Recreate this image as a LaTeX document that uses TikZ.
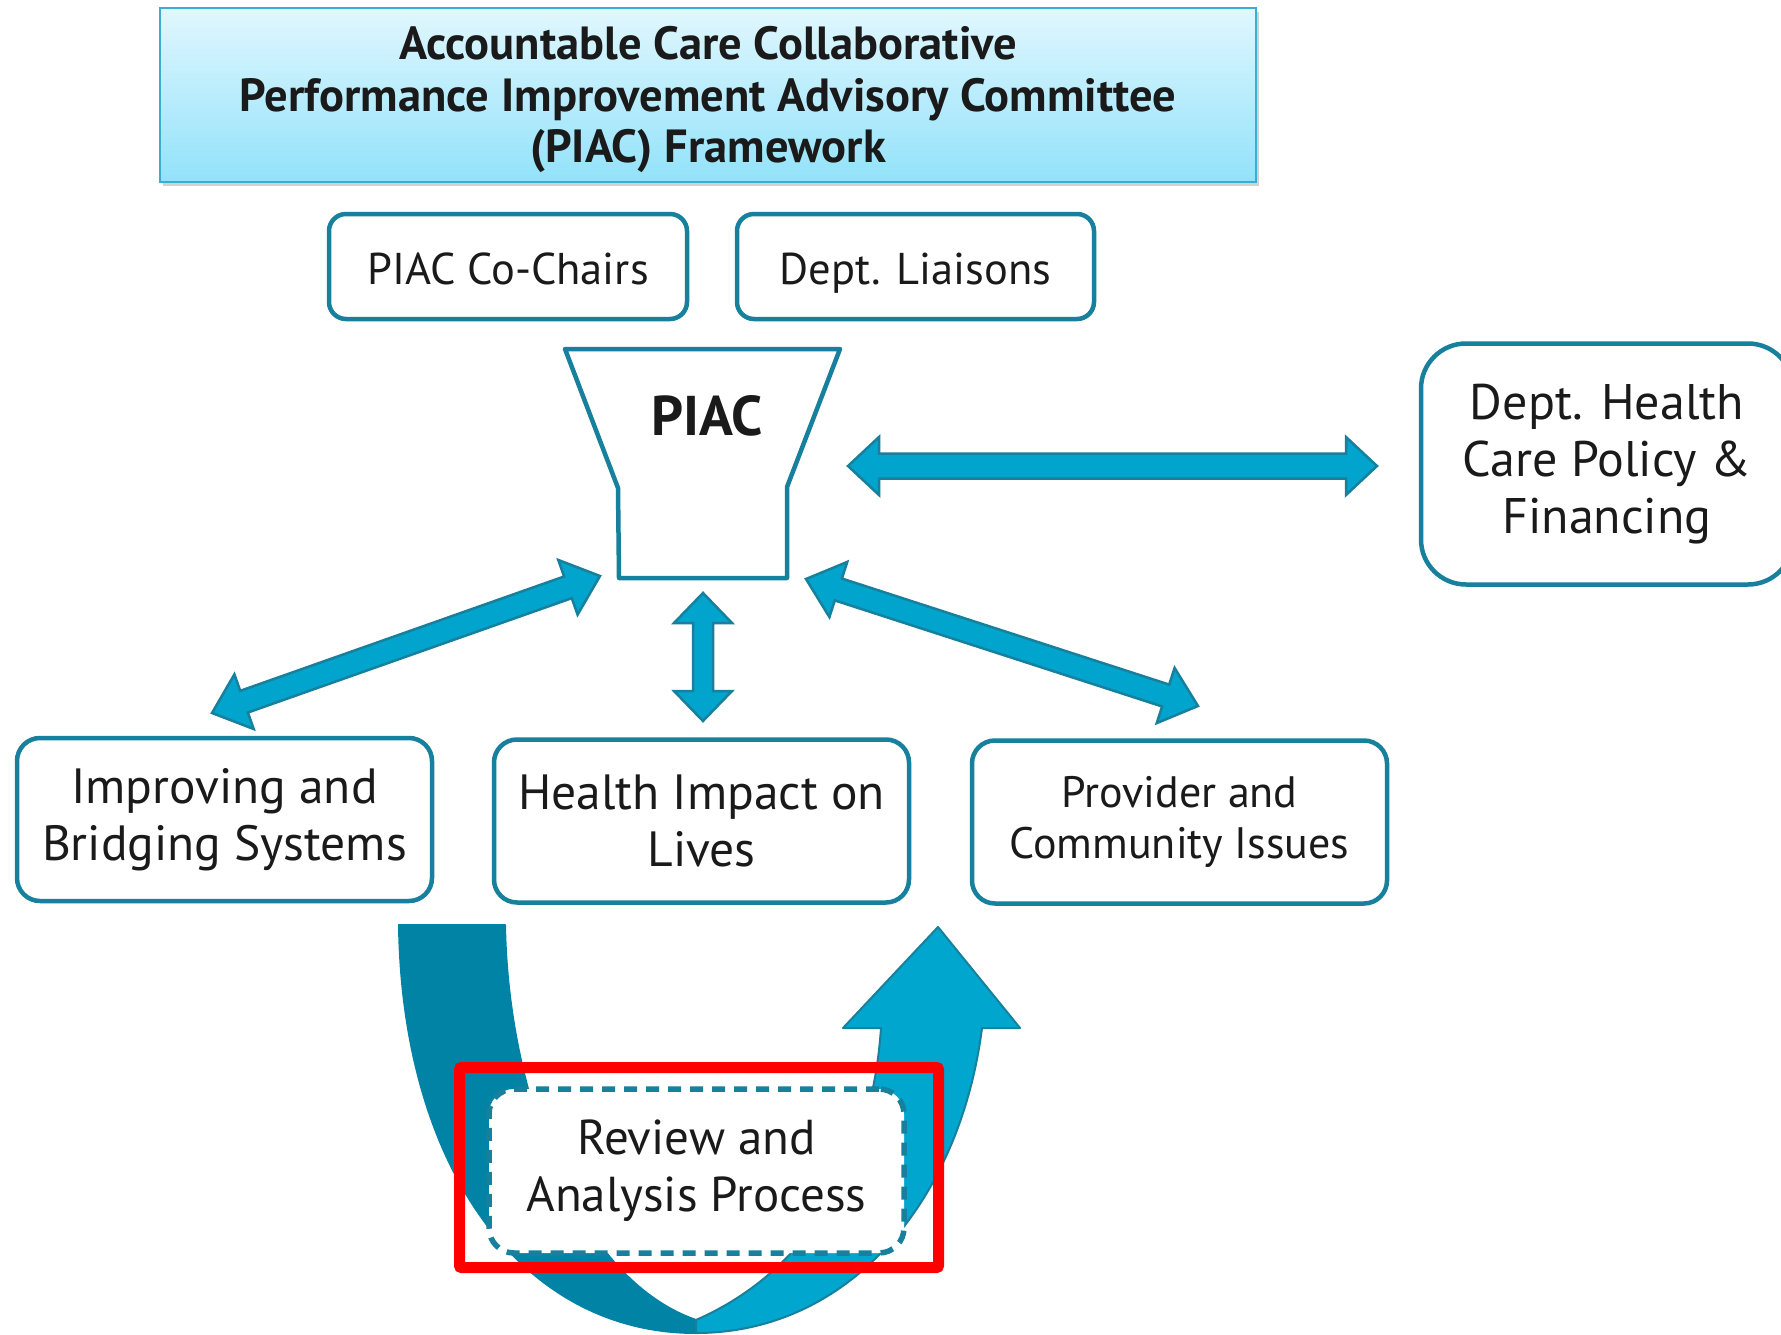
\documentclass[tikz,border=0pt]{standalone}
\usepackage{fontspec}
\setmainfont{PT Sans}
\usetikzlibrary{calc,shadows}
\definecolor{tealb}{HTML}{17809C}
\definecolor{afill}{HTML}{00A4CD}
\definecolor{udark}{HTML}{0083A4}
\definecolor{ulight}{HTML}{00A6CE}
\definecolor{ttop}{HTML}{E1F7FE}
\definecolor{tbot}{HTML}{92E2FA}
\definecolor{tborder}{HTML}{38AED3}
\definecolor{txt}{HTML}{1A1A1A}
\newcommand\fatarrow[5]{%
 \draw[fatarrowstyle] (#1) -- ($(#1)!#5!(#2)!#4!90:(#2)$) -- ($(#1)!#5!(#2)!#3!90:(#2)$)
  -- ($(#2)!#5!(#1)!#3!-90:(#1)$) -- ($(#2)!#5!(#1)!#4!-90:(#1)$) -- (#2)
  -- ($(#2)!#5!(#1)!#4!90:(#1)$) -- ($(#2)!#5!(#1)!#3!90:(#1)$)
  -- ($(#1)!#5!(#2)!#3!-90:(#2)$) -- ($(#1)!#5!(#2)!#4!-90:(#2)$) -- cycle;}
\tikzset{
 fatarrowstyle/.style={draw=tealb, fill=afill, line width=2.5pt, line join=miter},
 box/.style={draw=tealb, line width=4.5pt, rounded corners=17pt, fill=white, text=txt, align=center, inner sep=0pt},
 smallbox/.style={box, minimum width=357pt, minimum height=105pt, text height=38pt, text depth=2pt, font=\fontsize{44.5}{51}\selectfont},
 lowbox/.style={box, rounded corners=23pt, minimum width=415pt, minimum height=163pt, font=\fontsize{49.5}{57}\selectfont},
}
\begin{document}
\begin{tikzpicture}[x=1pt,y=-1pt]
\useasboundingbox (0,0) rectangle (1781,1335);
\clip (0,0) rectangle (1781,1335);
\fill[white] (0,0) rectangle (1781,1335);

% title
\node[draw=tborder, line width=2pt, top color=ttop, bottom color=tbot,
  drop shadow={shadow xshift=3pt, shadow yshift=-4pt, opacity=0.35},
  minimum width=1096pt, minimum height=174pt, inner sep=0pt, align=center, text=txt,
  font=\bfseries\fontsize{46.5}{51.5}\selectfont] (title) at (708,95) {};
\node[align=center, text=txt, inner sep=0pt, font=\bfseries\fontsize{46.5}{51.5}\selectfont] (titletext) at (708,100)
  {Accountable Care Collaborative\\Performance Improvement Advisory Committee\\(PIAC) Framework};

\node[smallbox, minimum width=358pt] (cochairs) at (508,266.5) {PIAC Co-Chairs};
\node[smallbox] (liaisons) at (915.5,266.5) {Dept. Liaisons};

% PIAC funnel
\draw[tealb, line width=4.5pt, fill=white, line join=round] (565,349) -- (840,349) -- (787,487) -- (787,578) -- (619,578) -- (618,488) -- cycle;
\node[text=txt, font=\bfseries\fontsize{56}{64}\selectfont] (piac) at (707,416) {PIAC};

\node[box, rounded corners=45pt, minimum width=372pt, minimum height=241pt, font=\fontsize{50}{57}\selectfont] (dhcpf) at (1607,464) {Dept. Health\\Care Policy \&\\Financing};

\node[lowbox] (improving) at (224.5,819.5) {Improving and\\Bridging Systems};
\node[lowbox] (health) at (701.5,821) {Health Impact on\\Lives};
\node[lowbox, font=\fontsize{44}{51}\selectfont] (provider) at (1179.5,822) {Provider and\\Community Issues};

% arrow end points
\coordinate (hA) at (848,466);
\coordinate (hB) at (1377,466);
\coordinate (vA) at (703,593);
\coordinate (vB) at (703,721);
\coordinate (lA) at (600,576);
\coordinate (lB) at (212,713);
\coordinate (rA) at (806,579);
\coordinate (rB) at (1198,706);
\fatarrow{hA}{hB}{12.5pt}{29pt}{31pt}
\fatarrow{vA}{vB}{10pt}{29pt}{30pt}
\fatarrow{lA}{lB}{11.5pt}{29pt}{34pt}
\fatarrow{rA}{rB}{11.5pt}{29pt}{34pt}

% U-turn arrow
\draw[udark, fill=udark, line width=2pt, line join=round] (399,925) -- (505,925)
  .. controls (508,1100) and (580,1280) .. (696,1320) -- (696,1333)
  .. controls (520,1333) and (402,1165) .. (399,925) -- cycle;
\draw[tealb, fill=ulight, line width=2pt, line join=round] (696,1320)
  .. controls (810,1270) and (872,1160) .. (881,1028) -- (843,1028) -- (938,927)
  -- (1020,1028) -- (982,1028) .. controls (960,1200) and (850,1333) .. (696,1333) -- cycle;

\node[box, line width=5.5pt, dash pattern=on 13pt off 9pt, rounded corners=25pt,
  minimum width=415pt, minimum height=164pt, font=\fontsize{49}{57}\selectfont] (review) at (696.5,1171)
  {Review and\\Analysis Process};

\draw[red, line width=11pt, rounded corners=2pt] (459.5,1067.5) rectangle (938.5,1267.5);
\end{tikzpicture}
\end{document}
